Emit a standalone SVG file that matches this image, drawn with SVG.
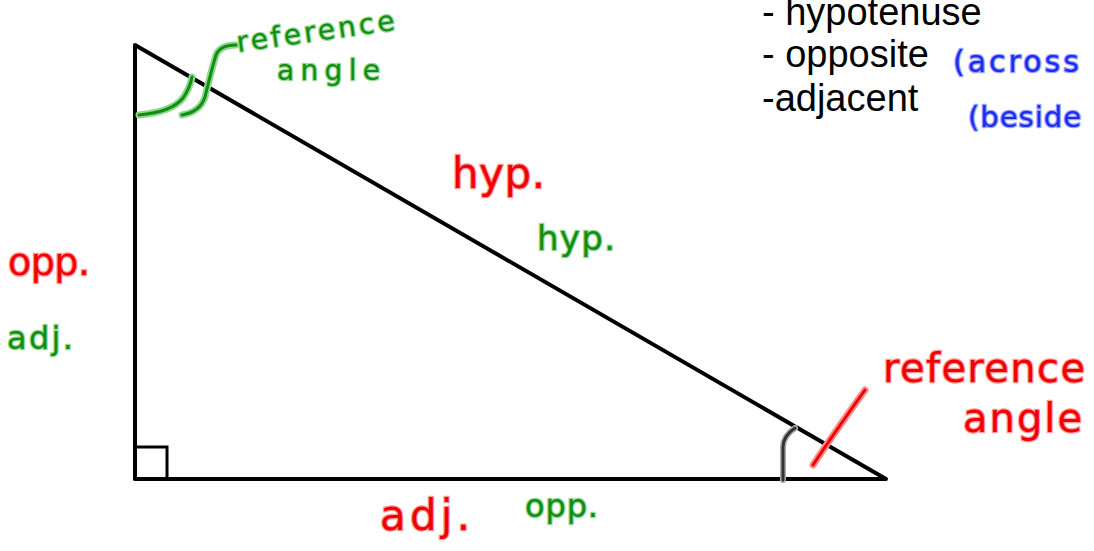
<svg xmlns="http://www.w3.org/2000/svg" width="1094" height="551" viewBox="0 0 1094 551">
<style>
.edge{fill:none;stroke:#000;stroke-width:4;stroke-linecap:round;stroke-linejoin:round}
.typed{font-family:"Liberation Sans",Arial,sans-serif;font-size:38px;fill:#000}
.hw{font-family:"DejaVu Sans","Liberation Sans",sans-serif;paint-order:stroke;stroke-linejoin:round;stroke-linecap:round;stroke-width:2.5px}
.red{fill:#f00000;stroke:#ff9a9a}
.green{fill:#0f8f0f;stroke:#9ad89a}
.blue{fill:#1a2cf0;stroke:#9aa2ff}
.halo-g{fill:none;stroke:#8fd68f;stroke-width:7;stroke-linecap:round}
.ink-g{fill:none;stroke:#0f8f0f;stroke-width:3;stroke-linecap:round}
.halo-r{fill:none;stroke:#ff8a8a;stroke-width:7;stroke-linecap:round}
.ink-r{fill:none;stroke:#f00000;stroke-width:3;stroke-linecap:round}
</style>
<rect width="1094" height="551" fill="#fff"/>
<g id="triangle">
<path class="edge" d="M135,45 L135,479 L886,479 Z"/>
<rect x="135" y="447" width="32" height="32" fill="none" stroke="#000" stroke-width="3"/>
</g>
<g id="connectors">
<path class="halo-g" d="M139,115 Q172,112 183,98 Q190,88 192,77"/>
<path class="ink-g" d="M139,115 Q172,112 183,98 Q190,88 192,77"/>
<path class="halo-g" d="M182,115 Q200,112 205,97 Q212,68 216,55 Q220,45 236,45"/>
<path class="ink-g" d="M182,115 Q200,112 205,97 Q212,68 216,55 Q220,45 236,45"/>
<path d="M783,480 L783,447 Q783,436 795,428" fill="none" stroke="#aaa" stroke-width="6" stroke-linecap="round"/>
<path d="M783,480 L783,447 Q783,436 795,428" fill="none" stroke="#333" stroke-width="3" stroke-linecap="round"/>
<path class="halo-r" d="M813,465 Q832,436 865,390"/>
<path class="ink-r" d="M813,465 Q832,436 865,390"/>
</g>
<g id="legend">
<text class="typed" x="762" y="25">- hypotenuse</text>
<text class="typed" x="762" y="67">- opposite</text>
<text class="typed" x="762" y="111">-adjacent</text>
<text class="hw blue" x="953" y="72" font-size="30" letter-spacing="3">(across</text>
<text class="hw blue" x="968" y="127" font-size="29" letter-spacing="1">(beside</text>
</g>
<g id="ref-angle-top">
<text class="hw green" x="238" y="52" font-size="28" textLength="159" transform="rotate(-8 238 52)">reference</text>
<text class="hw green" x="277" y="80" font-size="28" textLength="103">angle</text>
</g>
<g id="ref-angle-bottom">
<text class="hw red" x="883" y="382" font-size="40" textLength="202">reference</text>
<text class="hw red" x="963" y="432" font-size="40" textLength="119">angle</text>
</g>
<g id="hyp-labels">
<text class="hw red" x="452" y="188" font-size="42" textLength="93">hyp.</text>
<text class="hw green" x="537" y="250" font-size="34" textLength="78">hyp.</text>
</g>
<g id="left-labels">
<text class="hw red" x="8" y="275" font-size="38" textLength="82">opp.</text>
<text class="hw green" x="7" y="349" font-size="32" textLength="66">adj.</text>
</g>
<g id="bottom-labels">
<text class="hw red" x="380" y="530" font-size="42" textLength="90">adj.</text>
<text class="hw green" x="525" y="517" font-size="32" textLength="73">opp.</text>
</g>
</svg>
